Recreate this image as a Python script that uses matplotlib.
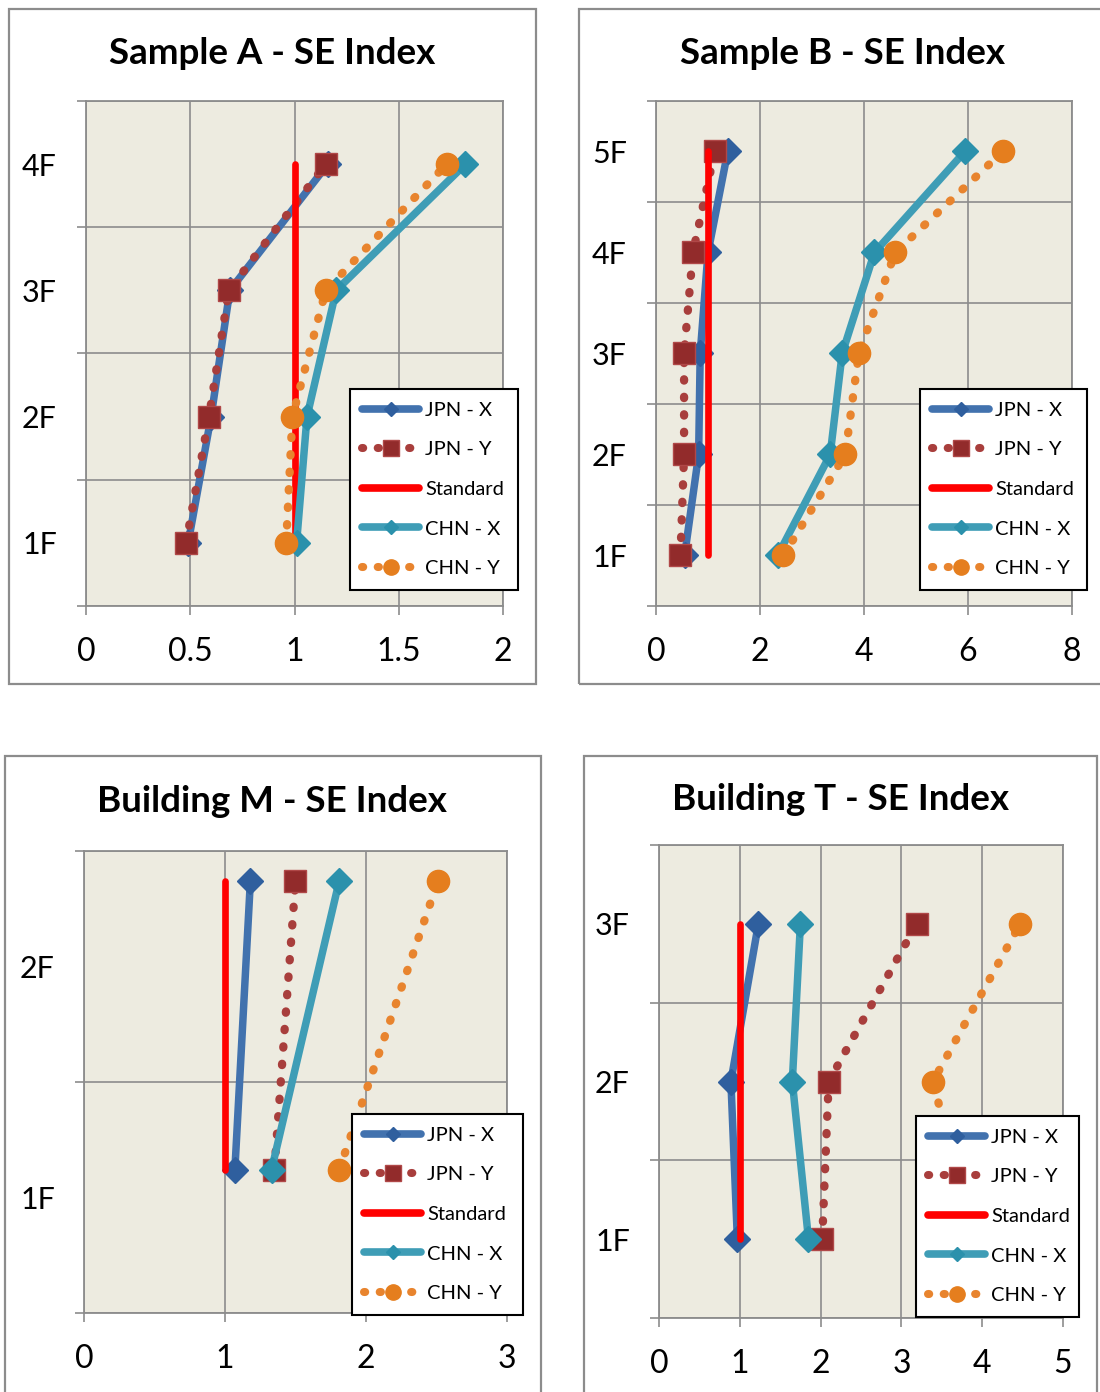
import matplotlib
matplotlib.use("Agg")
import matplotlib.pyplot as plt
from matplotlib.lines import Line2D
from matplotlib.patches import Rectangle

W, H = 1100, 1392
plt.rcParams['font.family'] = ['Lato', 'DejaVu Sans']

# ---------------- data ----------------
series_names = ["JPN - X", "JPN - Y", "Standard", "CHN - X", "CHN - Y"]
standard_value = 1.0

# Sample A
a_floors = ["1F", "2F", "3F", "4F"]
a_floor_ticks = [1, 2, 3, 4]
a_levels = [1, 2, 3, 4]
a_jpn_x = [0.49, 0.60, 0.69, 1.16]
a_jpn_y = [0.48, 0.59, 0.685, 1.15]
a_chn_x = [1.01, 1.06, 1.20, 1.82]
a_chn_y = [0.96, 0.99, 1.15, 1.73]
a_xticks = [0, 0.5, 1, 1.5, 2]
a_xlabels = ["0", "0.5", "1", "1.5", "2"]

# Sample B
b_floors = ["1F", "2F", "3F", "4F", "5F"]
b_floor_ticks = [1, 2, 3, 4, 5]
b_levels = [1, 2, 3, 4, 5]
b_jpn_x = [0.55, 0.82, 0.85, 1.00, 1.38]
b_jpn_y = [0.47, 0.54, 0.54, 0.71, 1.13]
b_chn_x = [2.34, 3.35, 3.58, 4.20, 5.94]
b_chn_y = [2.45, 3.64, 3.90, 4.60, 6.67]
b_xticks = [0, 2, 4, 6, 8]
b_xlabels = ["0", "2", "4", "6", "8"]

# Building M
m_floors = ["1F", "2F"]
m_floor_ticks = [1, 2]
m_levels = [1.12, 2.37]
m_jpn_x = [1.07, 1.18]
m_jpn_y = [1.35, 1.50]
m_chn_x = [1.33, 1.81]
m_chn_y = [1.81, 2.51]
m_xticks = [0, 1, 2, 3]
m_xlabels = ["0", "1", "2", "3"]

# Building T
t_floors = ["1F", "2F", "3F"]
t_floor_ticks = [1, 2, 3]
t_levels = [1, 2, 3]
t_jpn_x = [0.97, 0.89, 1.23]
t_jpn_y = [2.02, 2.10, 3.19]
t_chn_x = [1.85, 1.65, 1.75]
t_chn_y = [3.90, 3.39, 4.47]
t_xticks = [0, 1, 2, 3, 4, 5]
t_xlabels = ["0", "1", "2", "3", "4", "5"]

# ---------------- styles ----------------
BG = "#EDEBE0"
GRID = "#8C8C8C"
FRAME = "#8C8C8C"

blue_line, blue_mark = "#4272AE", "#2F5F9E"
red_dot, red_mark, red_edge = "#A83E3C", "#922B2B", "#B04848"
std_col = "#FF0000"
teal_line, teal_mark = "#3F9DB6", "#2B91AC"
orng_dot, orng_mark = "#E8842E", "#E57E1E"

dotted = (0, (0.15, 1.95))


def px_box(l, t, r, b):
    return [l / W, 1 - b / H, (r - l) / W, (b - t) / H]


fig = plt.figure(figsize=(W / 100, H / 100), dpi=100)
fig.patch.set_facecolor("white")


def draw_panel(frame, area, title, title_xy, floors, floor_ticks, levels,
               jpn_x, jpn_y, chn_x, chn_y, xticks, xlabels, legend_px):
    # chart frame
    fl, ft, fr, fb = frame
    fig.add_artist(Rectangle((fl / W, 1 - fb / H), (fr - fl) / W, (fb - ft) / H,
                             transform=fig.transFigure, fill=False,
                             edgecolor=FRAME, lw=1.6, zorder=0))
    fig.text(title_xy[0] / W, 1 - title_xy[1] / H, title, ha="center",
             va="center", fontsize=26.5, fontweight="bold")

    ax = fig.add_axes(px_box(*area))
    ax.set_facecolor(BG)
    ax.set_xlim(xticks[0], xticks[-1])
    ax.set_ylim(floor_ticks[0] - 0.5, floor_ticks[-1] + 0.5)

    standard = [standard_value] * len(levels)

    ax.plot(jpn_x, levels, color=blue_line, lw=5.4, marker="D", ms=13.5,
            mfc=blue_mark, mec=blue_mark, mew=1, solid_capstyle="round",
            zorder=3)
    ax.plot(jpn_y, levels, color=red_dot, lw=6, linestyle=dotted,
            dash_capstyle="round", marker="s", ms=16, mfc=red_mark,
            mec=red_edge, mew=1, zorder=4)
    ax.plot(standard, levels, color=std_col, lw=4.8, solid_capstyle="round",
            zorder=5)
    ax.plot(chn_x, levels, color=teal_line, lw=5.4, marker="D", ms=13.5,
            mfc=teal_mark, mec=teal_mark, mew=1, solid_capstyle="round",
            zorder=6)
    ax.plot(chn_y, levels, color=orng_dot, lw=6, linestyle=dotted,
            dash_capstyle="round", marker="o", ms=16, mfc=orng_mark,
            mec=orng_mark, mew=1, zorder=7)

    # axes, grid and ticks
    grid_pos = [f - 0.5 for f in floor_ticks] + [floor_ticks[-1] + 0.5]
    ax.set_yticks(grid_pos)
    ax.set_yticklabels([])
    ax.set_yticks(floor_ticks, minor=True)
    ax.set_yticklabels(floors, minor=True)
    ax.set_xticks(xticks)
    ax.set_xticklabels(xlabels)
    ax.grid(True, which="major", color=GRID, lw=1.2)
    ax.set_axisbelow(True)
    for s in ax.spines.values():
        s.set_color(GRID)
        s.set_linewidth(1.3)
    ax.tick_params(axis="both", which="major", direction="out", length=6.5,
                   width=1.2, color=GRID)
    ax.tick_params(axis="x", which="major", pad=16, labelsize=23)
    ax.tick_params(axis="y", which="minor", length=0, labelsize=22, pad=21)

    # legend
    handles = [
        Line2D([], [], color=blue_line, lw=5.5, marker="D", ms=7.5,
               mfc=blue_mark, mec=blue_mark, solid_capstyle="round"),
        Line2D([], [], color=red_dot, lw=5.8, linestyle=(0, (0.15, 1.8)),
               dash_capstyle="round", marker="s", ms=11, mfc=red_mark,
               mec=red_edge),
        Line2D([], [], color=std_col, lw=5.5, solid_capstyle="round"),
        Line2D([], [], color=teal_line, lw=5.5, marker="D", ms=7.5,
               mfc=teal_mark, mec=teal_mark, solid_capstyle="round"),
        Line2D([], [], color=orng_dot, lw=5.8, linestyle=(0, (0.15, 1.8)),
               dash_capstyle="round", marker="o", ms=11, mfc=orng_mark,
               mec=orng_mark),
    ]
    ll, lt, lr, lb = legend_px
    leg = ax.legend(handles, series_names, loc="upper left",
                    bbox_to_anchor=(ll / W, 1 - lb / H, (lr - ll) / W, (lb - lt) / H),
                    bbox_transform=fig.transFigure, mode="expand",
                    borderaxespad=0, fontsize=14.5, handlelength=2.8,
                    handletextpad=0.3, labelspacing=1.12, borderpad=0.62,
                    fancybox=False, framealpha=1, edgecolor="black")
    leg.get_frame().set_linewidth(1.5)
    leg.set_zorder(20)
    return ax


draw_panel((9, 9, 536, 684), (86, 101, 503, 606), "Sample A - SE Index",
           (272, 54), a_floors, a_floor_ticks, a_levels,
           a_jpn_x, a_jpn_y, a_chn_x, a_chn_y, a_xticks, a_xlabels,
           (350, 389, 518, 591))

draw_panel((579, 9, 1112, 684), (656, 101, 1072, 606), "Sample B - SE Index",
           (842, 54), b_floors, b_floor_ticks, b_levels,
           b_jpn_x, b_jpn_y, b_chn_x, b_chn_y, b_xticks, b_xlabels,
           (920, 389, 1087, 591))

draw_panel((5, 756, 541, 1400), (84, 851, 507, 1313), "Building M - SE Index",
           (272, 802), m_floors, m_floor_ticks, m_levels,
           m_jpn_x, m_jpn_y, m_chn_x, m_chn_y, m_xticks, m_xlabels,
           (352, 1114, 523, 1305))

draw_panel((584, 756, 1097, 1400), (659, 845, 1063, 1318), "Building T - SE Index",
           (840, 799), t_floors, t_floor_ticks, t_levels,
           t_jpn_x, t_jpn_y, t_chn_x, t_chn_y, t_xticks, t_xlabels,
           (916, 1116, 1079, 1306))

fig.savefig("out.png", dpi=100, facecolor="white")
